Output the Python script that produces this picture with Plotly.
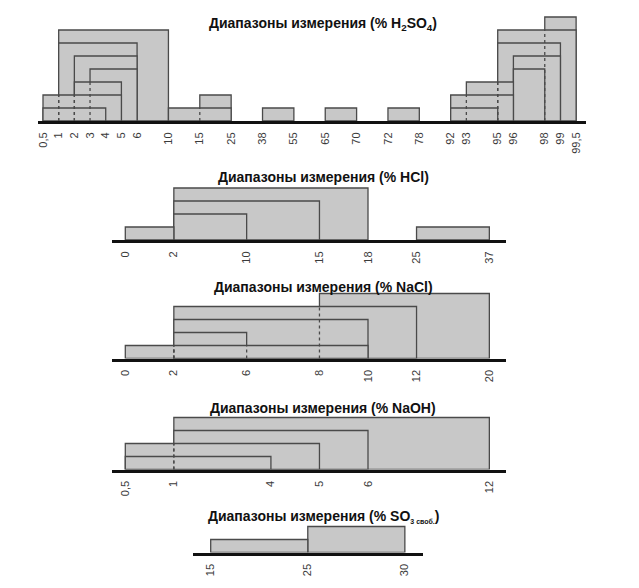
import plotly.graph_objects as go

# ---------------- DATA ----------------
# H2SO4
h2so4_ticktext = ["0,5", "1", "2", "3", "4", "5", "6", "10", "15", "25", "38", "55", "65", "70",
                  "72", "78", "92", "93", "95", "96", "98", "99", "99,5"]
h2so4_values = [0.5, 1, 2, 3, 4, 5, 6, 10, 15, 25, 38, 55, 65, 70, 72, 78, 92, 93, 95, 96, 98, 99, 99.5]
h2so4_lo = [1, 1, 2, 3, 2, 0.5, 0.5, 15, 10, 38, 65, 72, 98, 95, 95, 96, 96, 93, 92, 92]
h2so4_hi = [10, 6, 6, 6, 5, 5, 4, 25, 25, 55, 70, 78, 99.5, 99.5, 99, 99, 98, 96, 96, 95]
h2so4_lvl = [7, 6, 5, 4, 3, 2, 1, 2, 1, 1, 1, 1, 8, 7, 6, 5, 4, 3, 2, 1]

# HCl
hcl_ticktext = ["0", "2", "10", "15", "18", "25", "37"]
hcl_values = [0, 2, 10, 15, 18, 25, 37]
hcl_lo = [2, 2, 2, 0, 25]
hcl_hi = [18, 15, 10, 2, 37]
hcl_lvl = [4, 3, 2, 1, 1]

# NaCl
nacl_ticktext = ["0", "2", "6", "8", "10", "12", "20"]
nacl_values = [0, 2, 6, 8, 10, 12, 20]
nacl_lo = [8, 2, 2, 2, 0]
nacl_hi = [20, 12, 10, 6, 10]
nacl_lvl = [5, 4, 3, 2, 1]

# NaOH
naoh_ticktext = ["0,5", "1", "4", "5", "6", "12"]
naoh_values = [0.5, 1, 4, 5, 6, 12]
naoh_lo = [1, 1, 0.5, 0.5]
naoh_hi = [12, 6, 5, 4]
naoh_lvl = [4, 3, 2, 1]

# SO3 free
so3_ticktext = ["15", "25", "30"]
so3_values = [15, 25, 30]
so3_lo = [25, 15]
so3_hi = [30, 25]
so3_lvl = [2, 1]

titles = [
    "Диапазоны измерения (% H<sub>2</sub>SO<sub>4</sub>)",
    "Диапазоны измерения (% HCl)",
    "Диапазоны измерения (% NaCl)",
    "Диапазоны измерения (% NaOH)",
    "Диапазоны измерения (% SO<sub><span style='font-size:7px'>3 своб.</span></sub>)",
]

# ---------------- LAYOUT (positions / styles) ----------------
W, H = 639, 588
FILL = "#c8c8c8"
EDGE = "#4a4a4a"

# slot positions on the (non-linear) category-like axes
h2so4_slots = [0, 1, 2, 3, 4, 5, 6, 8, 10, 12, 14, 16, 18, 20, 22, 24, 26, 27, 29, 30, 32, 33, 34]
hcl_slots = [0, 2, 5, 8, 10, 12, 15]
nacl_slots = [0, 2, 5, 8, 10, 12, 15]
naoh_slots = [0, 2, 6, 8, 10, 15]
so3_slots = [0, 4, 8]

panels = [
    # ticktext, values, slots, lo, hi, lvl, base_py, left_px, right_px, slot0_px, unit_px, title_py, nlev
    (h2so4_ticktext, h2so4_values, h2so4_slots, h2so4_lo, h2so4_hi, h2so4_lvl, 121.0, 38, 586, 43, 15.68, 24, 9),
    (hcl_ticktext, hcl_values, hcl_slots, hcl_lo, hcl_hi, hcl_lvl, 240.0, 112, 506, 125.3, 24.27, 177, 6),
    (nacl_ticktext, nacl_values, nacl_slots, nacl_lo, nacl_hi, nacl_lvl, 358.5, 112, 506, 125.3, 24.27, 287, 6),
    (naoh_ticktext, naoh_values, naoh_slots, naoh_lo, naoh_hi, naoh_lvl, 469.5, 112, 506, 125.3, 24.27, 408, 6),
    (so3_ticktext, so3_values, so3_slots, so3_lo, so3_hi, so3_lvl, 552.5, 193, 423, 210.7, 24.27, 516, 4),
]
LEVEL_PX = 13.0

fig = go.Figure()
shapes = []
annotations = []
layout_axes = {}

for k, (ttext, vals, slots, lo, hi, lvl, base_py, lpx, rpx, s0px, upx, tpy, nlev) in enumerate(panels):
    idx = "" if k == 0 else str(k + 1)
    xname, yname = "x" + idx, "y" + idx
    pos = dict(zip(vals, slots))

    x0 = (lpx - s0px) / upx
    x1 = (rpx - s0px) / upx
    ybot = 1 - base_py / H
    ytop = 1 - (base_py - LEVEL_PX * nlev) / H

    layout_axes["xaxis" + idx] = dict(
        domain=[lpx / W, rpx / W], range=[x0, x1], anchor=yname,
        tickmode="array", tickvals=[pos[v] for v in vals], ticktext=ttext,
        tickangle=-90, ticks="", showgrid=False, zeroline=False,
        showline=True, linewidth=3, linecolor="#111111",
        ticklabelstandoff=4,
        tickfont=dict(family="Liberation Sans, Arial", size=11, color="#3a3a3a"),
        fixedrange=True,
    )
    layout_axes["yaxis" + idx] = dict(
        domain=[ybot, ytop], range=[0, nlev], anchor=xname, visible=False, fixedrange=True,
    )

    # invisible trace to activate axes
    fig.add_trace(go.Scatter(x=[pos[vals[0]]], y=[0], xaxis=xname, yaxis=yname,
                             mode="markers", marker=dict(opacity=0), showlegend=False,
                             hoverinfo="skip"))

    # rectangles, tallest first
    for a, b, h in zip(lo, hi, lvl):
        shapes.append(dict(type="rect", xref=xname, yref=yname,
                           x0=pos[a], x1=pos[b], y0=0, y1=h,
                           fillcolor=FILL, line=dict(color=EDGE, width=1.3), layer="above"))
    # dashed lines for edges hidden by later (lower) rectangles
    n = len(lo)
    for i in range(n):
        for e in (lo[i], hi[i]):
            cover = 0
            for j in range(i + 1, n):
                if lo[j] < e < hi[j]:
                    cover = max(cover, lvl[j])
            cover = min(cover, lvl[i])
            if cover > 0:
                shapes.append(dict(type="line", xref=xname, yref=yname,
                                   x0=pos[e], x1=pos[e], y0=0, y1=cover,
                                   line=dict(color=EDGE, width=1.3, dash="3px,3px"),
                                   layer="above"))

    annotations.append(dict(text="<b>" + titles[k] + "</b>", xref="paper", yref="paper",
                            x=323 / W, y=1 - tpy / H, showarrow=False,
                            xanchor="center", yanchor="middle",
                            font=dict(family="Liberation Sans, Arial", size=14, color="#111111")))

fig.update_layout(
    width=W, height=H, margin=dict(l=0, r=0, t=0, b=0),
    paper_bgcolor="white", plot_bgcolor="rgba(0,0,0,0)",
    showlegend=False, shapes=shapes, annotations=annotations,
    **layout_axes,
)

fig.write_html("out.html")
